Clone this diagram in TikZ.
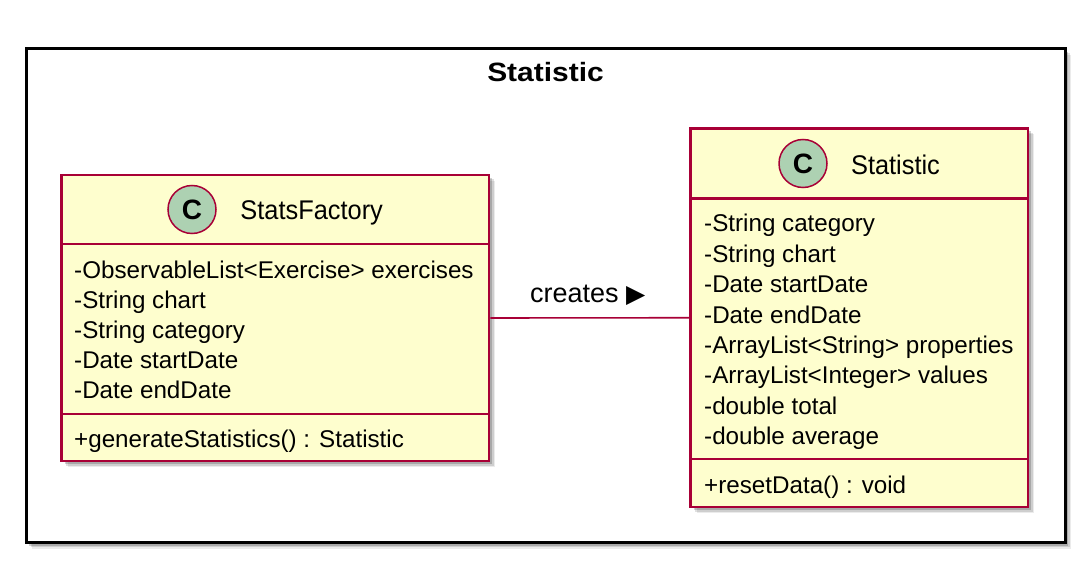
\documentclass[tikz,border=0pt]{standalone}
\usepackage{fontspec}
\setmainfont{Liberation Sans}
\newfontfamily\namefont[FakeStretch=0.94]{Liberation Sans}
\newfontfamily\ttlfont[FakeStretch=1.13]{Liberation Sans}
\newfontfamily\symfont{DejaVu Sans}
\usetikzlibrary{shadows}
\definecolor{umlborder}{HTML}{A80036}
\definecolor{umlfill}{HTML}{FEFECE}
\definecolor{umlcirc}{HTML}{ADD1B2}
\tikzset{
  shad/.style={
    drop shadow={shadow xshift=6pt, shadow yshift=-6pt, fill=black, opacity=0.08},
    drop shadow={shadow xshift=4.5pt, shadow yshift=-4.5pt, fill=black, opacity=0.12},
    drop shadow={shadow xshift=3pt, shadow yshift=-3pt, fill=black, opacity=0.18}},
  pkg/.style={draw=black, line width=3pt, fill=white, shad, rectangle, inner sep=0pt},
  cls/.style={draw=umlborder, line width=2.5pt, fill=umlfill, shad, rectangle, inner sep=0pt},
  cdiv/.style={draw=umlborder, line width=2.5pt},
  circ/.style={circle, draw=umlborder, line width=1.5pt, fill=umlcirc, minimum size=48pt, inner sep=0pt,
    font=\fontsize{28}{28}\selectfont\bfseries},
  cname/.style={anchor=base, inner sep=0pt, font=\namefont\fontsize{27}{30}\selectfont},
  attr/.style={anchor=base west, inner sep=0pt, font=\fontsize{24.2}{28}\selectfont},
  conn/.style={draw=umlborder, line width=1.6pt},
  lbl/.style={anchor=base, inner sep=0pt, font=\fontsize{27}{30}\selectfont},
  ttl/.style={anchor=base, inner sep=0pt, font=\ttlfont\bfseries\fontsize{26.5}{30}\selectfont}
}
\begin{document}
\begin{tikzpicture}[x=1pt, y=-1pt]
\useasboundingbox (0,0) rectangle (1085,561);
% package frame
\node[pkg, minimum width=1039pt, minimum height=493.5pt] (pkg) at (545.5,295.75) {};
\node[ttl] (pkgtitle) at (545.5,82) {Statistic};
% StatsFactory class
\node[cls, minimum width=427.5pt, minimum height=286pt] (sf) at (275.25,318) {};
\draw[cdiv] (sf.west |- 0,244) -- (sf.east |- 0,244);
\draw[cdiv] (sf.west |- 0,414) -- (sf.east |- 0,414);
\node[circ] (sfc) at (192,209.5) {C};
\node[cname] (sfn) at (311.7,219.5) {StatsFactory};
\node[attr] (sf1) at (74,279) {-ObservableList<Exercise> exercises};
\node[attr] (sf2) at (74,309) {-String chart};
\node[attr] (sf3) at (74,339) {-String category};
\node[attr] (sf4) at (74,369) {-Date startDate};
\node[attr] (sf5) at (74,399) {-Date endDate};
\node[attr] (sfm1) at (74,447) {+generateStatistics() : Statistic};
% Statistic class
\node[cls, minimum width=337.5pt, minimum height=378.5pt] (st) at (859.25,317.75) {};
\draw[cdiv] (st.west |- 0,198.7) -- (st.east |- 0,198.7);
\draw[cdiv] (st.west |- 0,459) -- (st.east |- 0,459);
\node[circ] (stc) at (803,163.5) {C};
\node[cname] (stn) at (895.5,174.3) {Statistic};
\node[attr] (st1) at (704,232) {-String category};
\node[attr] (st2) at (704,262.4) {-String chart};
\node[attr] (st3) at (704,292.8) {-Date startDate};
\node[attr] (st4) at (704,323.2) {-Date endDate};
\node[attr] (st5) at (704,353.6) {-ArrayList<String> properties};
\node[attr] (st6) at (704,384) {-ArrayList<Integer> values};
\node[attr] (st7) at (704,414.4) {-double total};
\node[attr] (st8) at (704,444.8) {-double average};
\node[attr] (stm1) at (704,493) {+resetData() : void};
% connector
\draw[conn] (sf.east) -- node[lbl, yshift=15pt, xshift=-2pt] (creates) {creates {\symfont\fontsize{25}{25}\selectfont ▶}} (st.west);
\end{tikzpicture}
\end{document}
